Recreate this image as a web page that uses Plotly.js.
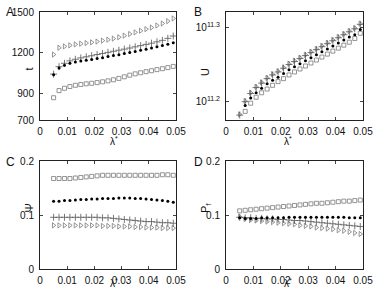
<!DOCTYPE html>
<html><head><meta charset="utf-8">
<script src="https://cdn.plot.ly/plotly-3.0.1.min.js"></script>
<style>html,body{margin:0;padding:0;background:#fff}#c{width:374px;height:298px}</style>
</head><body><div id="c"></div>
<script>
const lambda = [0.005,0.007,0.009,0.011,0.013,0.015,0.017,0.019,0.021,0.023,0.025,0.027,0.029,0.031,0.033,0.035,0.037,0.039,0.041,0.043,0.045,0.047,0.049];
const xTicks = [0,0.01,0.02,0.03,0.04,0.05];
const xTickText = ['0','0.01','0.02','0.03','0.04','0.05'];

// Panel A: t
const tTri = [1185,1235,1245,1253,1260,1265,1270,1275,1281,1288,1295,1303,1313,1325,1337,1349,1361,1373,1385,1400,1415,1432,1452];
const tPlus = [1040,1095,1120,1138,1150,1160,1168,1176,1185,1193,1201,1209,1217,1225,1233,1242,1251,1260,1269,1279,1290,1305,1322];
const tDot = [1035,1085,1105,1120,1130,1137,1142,1148,1155,1162,1170,1177,1184,1192,1200,1208,1216,1224,1233,1242,1252,1262,1273];
const tSq = [865,918,935,948,957,963,968,972,977,983,990,998,1008,1020,1032,1042,1050,1058,1065,1073,1080,1088,1097];
const tTicks = [700,900,1200,1500];

// Panel B: log10(U)
const uTriExp = [11.183,11.201,11.212,11.220,11.226,11.232,11.237,11.241,11.246,11.251,11.255,11.259,11.263,11.267,11.271,11.275,11.279,11.283,11.287,11.291,11.295,11.299,11.305];
const uPlusExp = [11.182,11.200,11.211,11.219,11.225,11.231,11.236,11.240,11.245,11.250,11.254,11.258,11.262,11.266,11.270,11.274,11.278,11.282,11.286,11.290,11.294,11.298,11.304];
const uDotExp = [null,11.195,11.205,11.212,11.218,11.224,11.229,11.233,11.238,11.243,11.247,11.251,11.255,11.259,11.263,11.267,11.271,11.275,11.279,11.283,11.287,11.290,11.297];
const uSqExp = [null,11.187,11.198,11.206,11.212,11.217,11.222,11.227,11.231,11.236,11.240,11.244,11.248,11.252,11.256,11.260,11.264,11.268,11.272,11.276,11.280,11.285,11.292];
const uTickExp = [11.2,11.3];

// Panel C: Psi
const psiSq = [0.168,0.168,0.168,0.168,0.169,0.170,0.171,0.172,0.173,0.174,0.174,0.174,0.174,0.174,0.174,0.174,0.174,0.174,0.174,0.174,0.175,0.175,0.174];
const psiDot = [0.126,0.126,0.127,0.127,0.128,0.129,0.129,0.130,0.130,0.131,0.131,0.131,0.132,0.132,0.132,0.131,0.131,0.130,0.129,0.128,0.127,0.126,0.124];
const psiPlus = [0.096,0.096,0.096,0.096,0.096,0.096,0.096,0.096,0.096,0.095,0.095,0.094,0.093,0.092,0.091,0.090,0.089,0.088,0.088,0.087,0.086,0.086,0.085];
const psiTri = [0.081,0.081,0.081,0.081,0.081,0.081,0.081,0.081,0.081,0.080,0.080,0.080,0.079,0.079,0.079,0.078,0.078,0.077,0.077,0.077,0.076,0.076,0.076];

// Panel D: P_f
const pfSq = [0.108,0.109,0.110,0.111,0.112,0.113,0.114,0.115,0.116,0.117,0.118,0.119,0.120,0.121,0.122,0.122,0.123,0.124,0.125,0.126,0.126,0.127,0.128];
const pfDot = [0.095,0.094,0.094,0.094,0.095,0.095,0.095,0.095,0.095,0.096,0.096,0.096,0.096,0.096,0.096,0.096,0.096,0.096,0.096,0.096,0.095,0.095,0.095];
const pfPlus = [0.096,0.095,0.095,0.094,0.094,0.093,0.093,0.092,0.092,0.091,0.090,0.090,0.089,0.088,0.087,0.086,0.085,0.084,0.083,0.082,0.081,0.080,0.079];
const pfTri = [0.097,0.093,0.091,0.090,0.089,0.088,0.087,0.086,0.085,0.084,0.083,0.081,0.080,0.079,0.077,0.076,0.075,0.074,0.072,0.071,0.069,0.067,0.065];
const psiTicks = [0,0.1,0.2];

const GRAY = '#7a7a7a';
const styles = {
  tri: {symbol:'triangle-right-open', size:4.5, color:GRAY, line:{width:0.8,color:GRAY}},
  plus: {symbol:'cross-thin-open', size:5, color:'#555', line:{width:0.8,color:'#555'}},
  dot: {symbol:'circle', size:3, color:'#000', line:{width:0}},
  sq: {symbol:'square-open', size:4, color:GRAY, line:{width:0.8,color:GRAY}}
};
function tr(y, st, xa, ya){
  return {x:lambda, y:y, type:'scatter', mode:'markers', marker:styles[st], xaxis:xa, yaxis:ya, showlegend:false, hoverinfo:'none'};
}
const pow10 = a => a.map(v => v===null ? null : Math.pow(10, v));

const data = [
  tr(tTri,'tri','x','y'), tr(tPlus,'plus','x','y'), tr(tSq,'sq','x','y'), tr(tDot,'dot','x','y'),
  tr(pow10(uTriExp),'tri','x2','y2'), tr(pow10(uPlusExp),'plus','x2','y2'), tr(pow10(uSqExp),'sq','x2','y2'), tr(pow10(uDotExp),'dot','x2','y2'),
  tr(psiSq,'sq','x3','y3'), tr(psiTri,'tri','x3','y3'), tr(psiPlus,'plus','x3','y3'), tr(psiDot,'dot','x3','y3'),
  tr(pfSq,'sq','x4','y4'), tr(pfTri,'tri','x4','y4'), tr(pfPlus,'plus','x4','y4'), tr(pfDot,'dot','x4','y4')
];

const W=374, H=298;
const xdA=[40/W,176/W], xdB=[226/W,363/W];
const ydTop=[(H-120)/H,(H-12)/H], ydBot=[(H-269)/H,(H-161.3)/H];
const axBase = {showline:true, linecolor:'#222', linewidth:1, mirror:'ticks', ticks:'inside', ticklen:3, tickcolor:'#444', showgrid:false, zeroline:false, ticklabelstandoff:3, tickfont:{size:10, color:'#111'}};
function xax(dom, anchor){ return Object.assign({}, axBase, {domain:dom, anchor:anchor, range:[0,0.05], tickmode:'array', tickvals:xTicks, ticktext:xTickText, ticklabelstandoff:2}); }

const layout = {
  width:W, height:H, margin:{l:0,r:0,t:0,b:0}, paper_bgcolor:'#fff', plot_bgcolor:'#fff',
  font:{family:'Liberation Sans, Arial, sans-serif', size:10, color:'#111'},
  xaxis: xax(xdA,'y'), yaxis: Object.assign({}, axBase, {domain:ydTop, anchor:'x', range:[700,1500], tickmode:'array', tickvals:tTicks}),
  xaxis2: xax(xdB,'y2'), yaxis2: Object.assign({}, axBase, {domain:ydTop, anchor:'x2', type:'log', range:[11.1754,11.3206], tickmode:'array', tickvals:pow10(uTickExp), ticktext:uTickExp.map(e=>'10<sup>'+e+'</sup>')}),
  xaxis3: xax(xdA,'y3'), yaxis3: Object.assign({}, axBase, {domain:ydBot, anchor:'x3', range:[0,0.2], tickmode:'array', tickvals:psiTicks, ticktext:['0','0.1','0.2']}),
  xaxis4: xax(xdB,'y4'), yaxis4: Object.assign({}, axBase, {domain:ydBot, anchor:'x4', range:[0,0.2], tickmode:'array', tickvals:psiTicks, ticktext:['0','0.1','0.2']}),
  annotations: [
    {text:'A', x:4/W, y:(H-12)/H, xref:'paper', yref:'paper', xanchor:'left', yanchor:'middle', showarrow:false, font:{size:12}},
    {text:'B', x:192/W, y:(H-12)/H, xref:'paper', yref:'paper', xanchor:'left', yanchor:'middle', showarrow:false, font:{size:12}},
    {text:'C', x:4/W, y:(H-162)/H, xref:'paper', yref:'paper', xanchor:'left', yanchor:'middle', showarrow:false, font:{size:12}},
    {text:'D', x:192/W, y:(H-162)/H, xref:'paper', yref:'paper', xanchor:'left', yanchor:'middle', showarrow:false, font:{size:12}},
    {text:'t', x:20/W, y:(H-66)/H, xref:'paper', yref:'paper', textangle:-90, showarrow:false, font:{size:11}},
    {text:'U', x:205/W, y:(H-66)/H, xref:'paper', yref:'paper', textangle:-90, showarrow:false, font:{size:11}},
    {text:'Ψ', x:20/W, y:(H-215)/H, xref:'paper', yref:'paper', textangle:-90, showarrow:false, font:{size:11}},
    {text:'P<sub>f</sub>', x:206/W, y:(H-215)/H, xref:'paper', yref:'paper', textangle:-90, showarrow:false, font:{size:11}},
    {text:'λ<sup>*</sup>', x:108/W, y:(H-141)/H, xref:'paper', yref:'paper', showarrow:false, font:{size:10}},
    {text:'λ<sup>*</sup>', x:294/W, y:(H-141)/H, xref:'paper', yref:'paper', showarrow:false, font:{size:10}},
    {text:'λ<sup>*</sup>', x:108/W, y:(H-291)/H, xref:'paper', yref:'paper', showarrow:false, font:{size:10}},
    {text:'λ<sup>*</sup>', x:294/W, y:(H-291)/H, xref:'paper', yref:'paper', showarrow:false, font:{size:10}}
  ]
};
Plotly.newPlot('c', data, layout, {staticPlot:true, displayModeBar:false});
</script></body></html>
